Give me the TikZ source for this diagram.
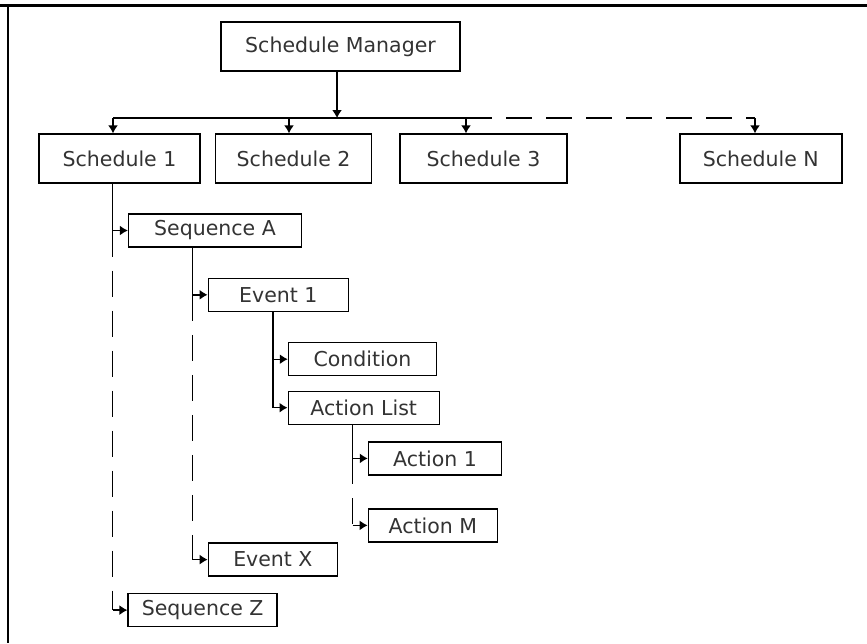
\documentclass[tikz,border=0pt]{standalone}
\usepackage{fontspec}
\setmainfont{DejaVu Sans}
\usetikzlibrary{arrows.meta}

\begin{document}
\begin{tikzpicture}[x=1pt,y=-1pt,
    box/.style={draw,line width=1.4pt,inner sep=0pt,minimum height=33pt,text=black!80,font=\fontsize{20.5}{24}\selectfont},
    wire/.style={line width=1.4pt},
    link/.style={wire,-{Latex[length=8pt,width=10pt]}},
    gap wire/.style={wire,dash pattern=on 26pt off 14pt}]
  \useasboundingbox (0,0) rectangle (867,643);
  \draw[line width=3pt] (0,5.5) -- (867,5.5);
  \draw[line width=2pt] (7.7,4) -- (7.7,643);

  \node[box,minimum width=239pt,minimum height=49pt] (mgr) at (340.5,46.5) {Schedule Manager};
  \node[box,minimum width=161pt,minimum height=49pt] (s1) at (119.5,158.5) {Schedule 1};
  \node[box,minimum width=156pt,minimum height=49pt] (s2) at (293.6,158.5) {Schedule 2};
  \node[box,minimum width=167pt,minimum height=49pt] (s3) at (483.5,158.5) {Schedule 3};
  \node[box,minimum width=162pt,minimum height=49pt] (sN) at (760.8,158.5) {Schedule N};

  \node[box,minimum width=173pt] (seqA) at (215,230.5) {Sequence A};
  \node[box,minimum width=140pt] (ev1) at (278.3,294.8) {Event 1};
  \node[box,minimum width=148pt] (cond) at (362.5,359.2) {Condition};
  \node[box,minimum width=151pt] (alist) at (363.7,407.7) {Action List};
  \node[box,minimum width=133pt] (act1) at (435,458.4) {Action 1};
  \node[box,minimum width=129pt] (actM) at (432.8,525.4) {Action M};
  \node[box,minimum width=129pt] (evX) at (272.9,559.6) {Event X};
  \node[box,minimum width=149pt] (seqZ) at (202.6,610.1) {Sequence Z};

  % bus from the manager to the schedules
  \coordinate (bus) at (337,118);
  \coordinate (d1) at (113,118);
  \coordinate (d2) at (289,118);
  \coordinate (d3) at (466,118);
  \coordinate (dN) at (755,118);
  \draw[link] (bus |- mgr.south) -- (bus);
  \draw[wire] (d1) -- (d3);
  \draw[gap wire] (d3) -- (dN);
  \draw[link] (d1) -- (d1 |- s1.north);
  \draw[link] (d2) -- (d2 |- s2.north);
  \draw[link] (d3) -- (d3 |- s3.north);
  \draw[link] (dN) -- (dN |- sN.north);

  % trunks of the tree
  \coordinate (t1) at (112.5,0);
  \coordinate (t2) at (192.3,0);
  \coordinate (t3) at (272.8,0);
  \coordinate (t4) at (352.6,0);

  \draw[link] (t1 |- s1.south) |- (seqA.west);
  \draw[gap wire] (t1 |- seqA.west) -- (t1 |- seqZ.west);
  \draw[link] (t1 |- seqZ.west) -- (seqZ.west);

  \draw[link] (t2 |- seqA.south) |- (ev1.west);
  \draw[gap wire] (t2 |- ev1.west) -- (t2 |- evX.west);
  \draw[link] (t2 |- evX.west) -- (evX.west);

  \draw[link] (t3 |- ev1.south) |- (cond.west);
  \draw[link] (t3 |- cond.west) |- (alist.west);

  \draw[link] (t4 |- alist.south) |- (act1.west);
  \draw[gap wire] (t4 |- act1.west) -- (t4 |- actM.west);
  \draw[link] (t4 |- actM.west) -- (actM.west);
\end{tikzpicture}
\end{document}
